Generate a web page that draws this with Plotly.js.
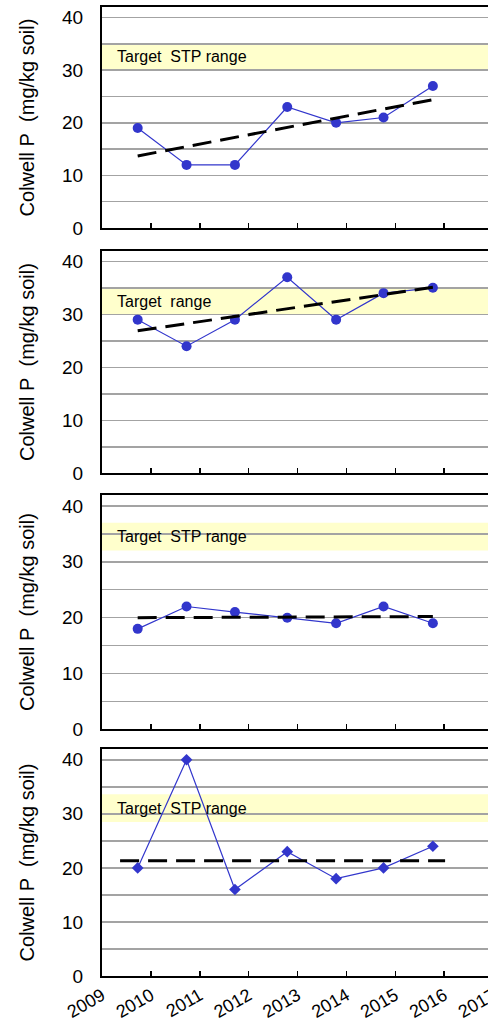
<!DOCTYPE html>
<html>
<head>
<meta charset="utf-8">
<script src="https://cdn.plot.ly/plotly-3.0.1.min.js"></script>
<style>
html,body{margin:0;padding:0;overflow:hidden;background:#fff;}
#chart{width:500px;height:1021px;}
</style>
</head>
<body>
<div id="chart"></div>
<script>
// ---- data ----
const sampleYears = [2009.73, 2010.73, 2011.72, 2012.79, 2013.79, 2014.76, 2015.77];
const panel1 = [19, 12, 12, 23, 20, 21, 27];
const panel2 = [29, 24, 29, 37, 29, 34, 35];
const panel3 = [18, 22, 21, 20, 19, 22, 19];
const panel4 = [20, 40, 16, 23, 18, 20, 24];

const trendX1 = [2009.73, 2015.77];
const trend1 = [13.7, 24.4];
const trendX2 = [2009.73, 2015.77];
const trend2 = [26.9, 35.1];
const trendX3 = [2009.73, 2015.77];
const trend3 = [20.0, 20.2];
const trendX4 = [2009.37, 2016.02];
const trend4 = [21.3, 21.3];

const targetLow = [30, 30, 32, 28.5];
const targetHigh = [35, 35, 37, 33.6];
const targetLabels = ['Target\u00a0 STP range', 'Target\u00a0 range', 'Target\u00a0 STP range', 'Target\u00a0 STP range'];

const xTickVals = [2009, 2010, 2011, 2012, 2013, 2014, 2015, 2016, 2017];
const xTickText = ['2009', '2010', '2011', '2012', '2013', '2014', '2015', '2016', '2017'];
const yTickVals = [0, 10, 20, 30, 40];
const yTitle = 'Colwell P\u00a0 (mg/kg soil)';

// ---- styling ----
const FONT = '"Liberation Sans", Arial, sans-serif';
const BLUE = '#3236cc';
const GRID = '#a3a3a3';
const panels = [panel1, panel2, panel3, panel4];
const trendsX = [trendX1, trendX2, trendX3, trendX4];
const trends = [trend1, trend2, trend3, trend4];
const symbols = ['circle', 'circle', 'circle', 'diamond'];
const msizes = [10, 10, 10, 9];
const domains = [[0.7719, 1.0], [0.5186, 0.7485], [0.2544, 0.4967], [0.0, 0.2343]];

const traces = [];
const layout = {
  width: 500, height: 1021,
  margin: {l: 102, r: 7, t: 7, b: 45},
  paper_bgcolor: '#fff', plot_bgcolor: '#fff',
  showlegend: false,
  font: {family: FONT, color: '#000', size: 18},
  shapes: [], annotations: []
};

for (let i = 0; i < 4; i++) {
  const n = i === 0 ? '' : String(i + 1);
  const xa = 'x' + n, ya = 'y' + n;
  traces.push({
    x: sampleYears, y: panels[i], xaxis: xa, yaxis: ya,
    type: 'scatter', mode: 'lines+markers',
    line: {color: BLUE, width: 1.2},
    marker: {symbol: symbols[i], size: msizes[i], color: BLUE},
    hoverinfo: 'skip'
  });
  traces.push({
    x: trendsX[i], y: trends[i], xaxis: xa, yaxis: ya,
    type: 'scatter', mode: 'lines',
    line: {color: '#000', width: 3, dash: '19px,9px'},
    hoverinfo: 'skip'
  });
  layout['xaxis' + n] = {
    anchor: ya, domain: [0, 1], range: [2009, 2017],
    tickvals: xTickVals, ticktext: xTickText,
    showticklabels: i === 3, tickangle: -30,
    tickfont: {size: 18, family: FONT, color: '#000'},
    ticks: 'inside', ticklen: 5, tickwidth: 1.5, tickcolor: '#000',
    showline: true, linecolor: '#000', linewidth: 2, mirror: true,
    showgrid: false, zeroline: false, fixedrange: true
  };
  layout['yaxis' + n] = {
    anchor: xa, domain: domains[i], range: [0, 42],
    tickvals: yTickVals, ticks: '', ticklabelstandoff: 13,
    tickfont: {size: 19, family: FONT, color: '#000'},
    showline: true, linecolor: '#000', linewidth: 2, mirror: true,
    showgrid: true, gridcolor: GRID, gridwidth: 1.5,
    minor: {dtick: 5, showgrid: true, gridcolor: GRID, gridwidth: 1.5, ticks: ''},
    zeroline: false, fixedrange: true,
    title: {text: yTitle, font: {size: 20, family: FONT, color: '#000'}, standoff: 22}
  };
  layout.shapes.push({
    type: 'rect', xref: xa + ' domain', yref: ya,
    x0: 0, x1: 1, y0: targetLow[i], y1: targetHigh[i],
    fillcolor: '#ffffcc', line: {width: 0}, layer: 'below'
  });
  layout.annotations.push({
    xref: xa + ' domain', yref: ya, x: 0.033, xanchor: 'left',
    y: (targetLow[i] + targetHigh[i]) / 2, yanchor: 'middle',
    text: targetLabels[i], showarrow: false,
    font: {size: 16, family: FONT, color: '#000'}
  });
}

Plotly.newPlot('chart', traces, layout, {staticPlot: true, displayModeBar: false});
</script>
</body>
</html>
